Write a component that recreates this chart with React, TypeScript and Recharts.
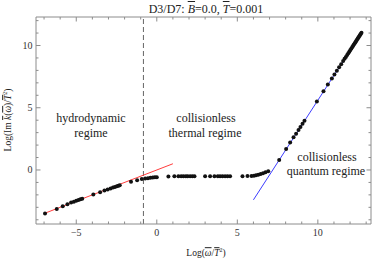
import React from "react";
import { ComposedChart, XAxis, YAxis, Scatter, Line, ReferenceLine } from "recharts";

// hydrodynamic regime (below omega/T^2 ~ 1)
const hydroX = [-6.94, -6.21, -5.84, -5.55, -5.32, -5.15, -5.0, -4.86, -4.74, -4.63, -3.94, -3.52, -3.25, -3.05, -2.87, -2.72, -2.6, -2.48, -2.38, -2.3, -1.6, -1.22, -0.93, -0.72, -0.55, -0.4, -0.25, -0.12, 0.0];
const hydroY = [-3.49, -3.14, -2.92, -2.76, -2.62, -2.55, -2.48, -2.42, -2.36, -2.31, -1.96, -1.78, -1.65, -1.56, -1.48, -1.41, -1.36, -1.31, -1.26, -1.22, -0.94, -0.82, -0.72, -0.69, -0.66, -0.63, -0.61, -0.59, -0.58];

// collisionless thermal plateau
const thermalX = [0.72, 1.09, 1.34, 1.51, 1.65, 1.8, 1.92, 2.07, 2.21, 2.34, 3.0, 3.31, 3.58, 3.79, 3.93, 4.08, 4.24, 4.39, 4.55, 5.32, 5.63, 5.88, 6.03, 6.16, 6.3, 6.45, 6.6, 6.75, 6.92];
const thermalY = [-0.52, -0.51, -0.51, -0.5, -0.5, -0.5, -0.5, -0.5, -0.5, -0.5, -0.5, -0.5, -0.5, -0.5, -0.5, -0.5, -0.5, -0.5, -0.5, -0.5, -0.49, -0.48, -0.46, -0.43, -0.39, -0.33, -0.26, -0.18, -0.1];

// collisionless quantum regime
const quantumX = [7.6, 8.03, 8.28, 8.49, 8.65, 8.8, 8.92, 9.05, 9.17, 9.94, 10.35, 10.62, 10.87, 11.03, 11.18, 11.32, 11.45, 11.57, 11.66, 11.74, 11.82, 11.89, 11.96, 12.02, 12.08, 12.14, 12.19, 12.24, 12.29, 12.34, 12.38, 12.43, 12.47, 12.51, 12.55, 12.59, 12.63, 12.67, 12.71];
const quantumY = [0.8, 1.69, 2.2, 2.62, 2.92, 3.22, 3.46, 3.72, 3.96, 5.5, 6.32, 6.86, 7.35, 7.68, 7.98, 8.25, 8.5, 8.76, 8.93, 9.08, 9.24, 9.38, 9.52, 9.64, 9.76, 9.88, 9.98, 10.08, 10.18, 10.28, 10.36, 10.46, 10.54, 10.62, 10.7, 10.78, 10.86, 10.94, 11.02];

// fitted asymptotes
const redFitX = [-7, 1];
const redFitY = [-3.5, 0.5];
const blueFitX = [6, 12.72];
const blueFitY = [-2.4, 11.04];

const boundaryX = -0.83;

const xTicks = [-7, -6, -5, -4, -3, -2, -1, 0, 1, 2, 3, 4, 5, 6, 7, 8, 9, 10, 11, 12, 13];
const yTicks = [-4, -3, -2, -1, 0, 1, 2, 3, 4, 5, 6, 7, 8, 9, 10, 11, 12];

const zip = (xs: number[], ys: number[]) => xs.map((x, i) => ({ x, y: ys[i] }));

const FRAME = "#8c8c8c";
const SERIF = "'Liberation Serif', 'DejaVu Serif', serif";
const fmt = (v: number) => (v < 0 ? "\u2212" + Math.abs(v) : String(v));

function BottomTick({ x, y, payload }: any) {
  const major = payload.value % 5 === 0;
  return (
    <g>
      <line x1={x} x2={x} y1={y} y2={y - (major ? 4.5 : 2.5)} stroke={FRAME} />
      {major && (
        <text x={x} y={y + 12} textAnchor="middle" fontSize={10} fontFamily={SERIF} fill="#333">
          {fmt(payload.value)}
        </text>
      )}
    </g>
  );
}

function TopTick({ x, y, payload }: any) {
  const major = payload.value % 5 === 0;
  return <line x1={x} x2={x} y1={y} y2={y + (major ? 4.5 : 2.5)} stroke={FRAME} />;
}

function LeftTick({ x, y, payload }: any) {
  const major = payload.value % 5 === 0;
  return (
    <g>
      <line x1={x} x2={x + (major ? 4.5 : 2.5)} y1={y} y2={y} stroke={FRAME} />
      {major && (
        <text x={x - 3.5} y={y + 3.5} textAnchor="end" fontSize={10} fontFamily={SERIF} fill="#333">
          {fmt(payload.value)}
        </text>
      )}
    </g>
  );
}

function RightTick({ x, y, payload }: any) {
  const major = payload.value % 5 === 0;
  return <line x1={x} x2={x - (major ? 4.5 : 2.5)} y1={y} y2={y} stroke={FRAME} />;
}

const Dot = (p: any) => <circle cx={p.cx} cy={p.cy} r={2} fill="#111" />;

function Note({ cx, cy, size = 12, children }: { cx: number; cy: number; size?: number; children: React.ReactNode }) {
  return (
    <div
      style={{
        position: "absolute",
        left: cx,
        top: cy,
        transform: "translate(-50%, -50%)",
        fontSize: size,
        lineHeight: 1,
        whiteSpace: "nowrap",
        color: "#222",
      }}
    >
      {children}
    </div>
  );
}

const ov: React.CSSProperties = { textDecoration: "overline" };

export default function App() {
  return (
    <div style={{ position: "absolute", left: 0, top: 0, width: 374, height: 261, background: "#fff", fontFamily: SERIF }}>
      <ComposedChart width={374} height={261} margin={{ top: 16, right: 2, bottom: 17, left: 16 }}>
        <XAxis xAxisId="b" orientation="bottom" type="number" dataKey="x" domain={[-7.5, 13.3]} allowDataOverflow
          ticks={xTicks} interval={0} height={20} tickSize={0} tickMargin={0} tick={<BottomTick />} stroke={FRAME} />
        <XAxis xAxisId="t" orientation="top" type="number" dataKey="x" domain={[-7.5, 13.3]} allowDataOverflow
          ticks={xTicks} interval={0} height={1} tickSize={0} tickMargin={0} tick={<TopTick />} stroke={FRAME} />
        <YAxis yAxisId="l" orientation="left" type="number" dataKey="y" domain={[-4.34, 12.29]} allowDataOverflow
          ticks={yTicks} interval={0} width={20} tickSize={0} tickMargin={0} tick={<LeftTick />} stroke={FRAME} />
        <YAxis yAxisId="r" orientation="right" type="number" dataKey="y" domain={[-4.34, 12.29]} allowDataOverflow
          ticks={yTicks} interval={0} width={1} tickSize={0} tickMargin={0} tick={<RightTick />} stroke={FRAME} />
        <ReferenceLine xAxisId="b" yAxisId="l" x={boundaryX} stroke="#666" strokeDasharray="5 3" />
        <Line xAxisId="b" yAxisId="l" data={zip(redFitX, redFitY)} dataKey="y" type="linear" stroke="#ff3c3c" strokeWidth={1} dot={false} isAnimationActive={false} />
        <Line xAxisId="b" yAxisId="l" data={zip(blueFitX, blueFitY)} dataKey="y" type="linear" stroke="#3c3cff" strokeWidth={1} dot={false} isAnimationActive={false} />
        <Scatter xAxisId="b" yAxisId="l" data={zip(hydroX, hydroY)} shape={Dot} isAnimationActive={false} />
        <Scatter xAxisId="b" yAxisId="l" data={zip(thermalX, thermalY)} shape={Dot} isAnimationActive={false} />
        <Scatter xAxisId="b" yAxisId="l" data={zip(quantumX, quantumY)} shape={Dot} isAnimationActive={false} />
      </ComposedChart>

      <Note cx={206} cy={9} size={12}>
        D3/D7: <i style={ov}>B</i>=0.0, <i style={ov}>T</i>=0.001
      </Note>
      <Note cx={206} cy={253} size={9.5}>
        Log(<i style={ov}>ω</i>/<i style={ov}>T</i><sup style={{ fontSize: 6 }}>2</sup>)
      </Note>
      <div
        style={{
          position: "absolute",
          left: 8,
          top: 120,
          transform: "translate(-50%, -50%) rotate(-90deg)",
          fontSize: 9.5,
          lineHeight: 1,
          whiteSpace: "nowrap",
          color: "#222",
        }}
      >
        Log(Im <i style={ov}>k</i>(<i style={ov}>ω</i>)/<i style={ov}>T</i><sup style={{ fontSize: 6 }}>2</sup>)
      </div>

      <Note cx={91} cy={118}>hydrodynamic</Note>
      <Note cx={91} cy={133}>regime</Note>
      <Note cx={206} cy={118}>collisionless</Note>
      <Note cx={205} cy={133}>thermal regime</Note>
      <Note cx={327} cy={157}>collisionless</Note>
      <Note cx={326} cy={171}>quantum regime</Note>
    </div>
  );
}
